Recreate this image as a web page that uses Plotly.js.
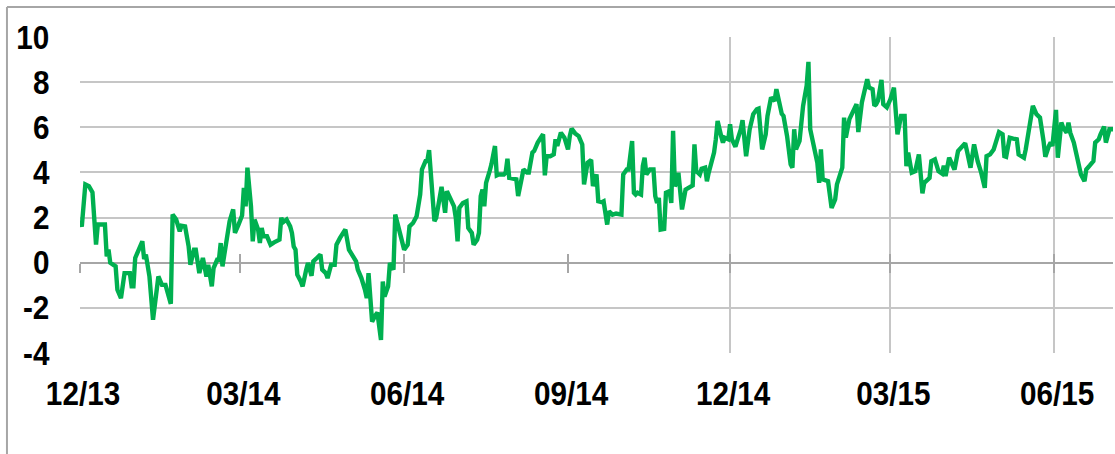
<!DOCTYPE html>
<html>
<head>
<meta charset="utf-8">
<script src="https://cdn.plot.ly/plotly-3.0.1.min.js"></script>
<style>
  html, body { margin: 0; padding: 0; background: #ffffff; }
  #chart { width: 1115px; height: 454px; }
</style>
</head>
<body>
<div id="chart"></div>
<script>
// Series: dates and values
const dates = [
  "2013-12-01","2013-12-02","2013-12-04","2013-12-06","2013-12-08","2013-12-09","2013-12-10","2013-12-11",
  "2013-12-15","2013-12-16","2013-12-17","2013-12-18","2013-12-21","2013-12-22","2013-12-24","2013-12-26",
  "2013-12-29","2013-12-30","2013-12-31","2014-01-01","2014-01-05","2014-01-06","2014-01-07","2014-01-09",
  "2014-01-11","2014-01-14","2014-01-16","2014-01-18","2014-01-21","2014-01-22","2014-01-24","2014-01-26",
  "2014-01-27","2014-01-29","2014-01-31","2014-02-01","2014-02-03","2014-02-04","2014-02-06","2014-02-08",
  "2014-02-10","2014-02-11","2014-02-13","2014-02-14","2014-02-16","2014-02-17","2014-02-18","2014-02-19",
  "2014-02-21","2014-02-23","2014-02-25","2014-02-26","2014-02-28","2014-03-02","2014-03-03","2014-03-04",
  "2014-03-05","2014-03-07","2014-03-08","2014-03-09","2014-03-11","2014-03-12","2014-03-13","2014-03-14",
  "2014-03-16","2014-03-18","2014-03-20","2014-03-23","2014-03-24","2014-03-25","2014-03-27","2014-03-29",
  "2014-03-30","2014-03-31","2014-04-01","2014-04-02","2014-04-04","2014-04-05","2014-04-07","2014-04-08",
  "2014-04-10","2014-04-11","2014-04-13","2014-04-15","2014-04-16","2014-04-18","2014-04-19","2014-04-21",
  "2014-04-23","2014-04-24","2014-04-26","2014-04-29","2014-05-01","2014-05-03","2014-05-05","2014-05-06",
  "2014-05-08","2014-05-10","2014-05-11","2014-05-12","2014-05-13","2014-05-14","2014-05-16","2014-05-17",
  "2014-05-19","2014-05-20","2014-05-21","2014-05-23","2014-05-24","2014-05-26","2014-05-27","2014-05-30",
  "2014-06-01","2014-06-03","2014-06-04","2014-06-06","2014-06-08","2014-06-10","2014-06-11","2014-06-13",
  "2014-06-14","2014-06-15","2014-06-17","2014-06-18","2014-06-19","2014-06-22","2014-06-23","2014-06-24",
  "2014-06-25","2014-06-27","2014-06-29","2014-06-30","2014-07-01","2014-07-02","2014-07-04","2014-07-06",
  "2014-07-07","2014-07-09","2014-07-10","2014-07-12","2014-07-13","2014-07-14","2014-07-15","2014-07-16",
  "2014-07-17","2014-07-19","2014-07-20","2014-07-22","2014-07-23","2014-07-24","2014-07-27","2014-07-28",
  "2014-07-29","2014-07-30","2014-08-01","2014-08-03","2014-08-04","2014-08-06","2014-08-07","2014-08-09",
  "2014-08-10","2014-08-12","2014-08-13","2014-08-15","2014-08-18","2014-08-19","2014-08-20","2014-08-22",
  "2014-08-24","2014-08-25","2014-08-26","2014-08-27","2014-08-28","2014-08-30","2014-09-01","2014-09-02",
  "2014-09-03","2014-09-05","2014-09-07","2014-09-09","2014-09-10","2014-09-12","2014-09-14","2014-09-15",
  "2014-09-17","2014-09-18","2014-09-20","2014-09-21","2014-09-23","2014-09-24","2014-09-26","2014-09-28",
  "2014-10-01","2014-10-02","2014-10-04","2014-10-05","2014-10-07","2014-10-08","2014-10-09","2014-10-10",
  "2014-10-12","2014-10-13","2014-10-14","2014-10-15","2014-10-17","2014-10-19","2014-10-20","2014-10-21",
  "2014-10-22","2014-10-23","2014-10-25","2014-10-26","2014-10-28","2014-10-29","2014-10-30","2014-10-31",
  "2014-11-01","2014-11-02","2014-11-03","2014-11-04","2014-11-06","2014-11-08","2014-11-10","2014-11-11",
  "2014-11-12","2014-11-14","2014-11-15","2014-11-17","2014-11-18","2014-11-19","2014-11-22","2014-11-23",
  "2014-11-24","2014-11-26","2014-11-27","2014-11-28","2014-11-30","2014-12-01","2014-12-02","2014-12-04",
  "2014-12-05","2014-12-07","2014-12-08","2014-12-10","2014-12-12","2014-12-14","2014-12-16","2014-12-17",
  "2014-12-19","2014-12-21","2014-12-22","2014-12-24","2014-12-26","2014-12-27","2014-12-30","2014-12-31",
  "2015-01-02","2015-01-04","2015-01-05","2015-01-06","2015-01-07","2015-01-09","2015-01-11","2015-01-13",
  "2015-01-14","2015-01-15","2015-01-17","2015-01-19","2015-01-20","2015-01-21","2015-01-22","2015-01-25",
  "2015-01-27","2015-01-29","2015-01-30","2015-02-02","2015-02-03","2015-02-04","2015-02-06","2015-02-08",
  "2015-02-10","2015-02-11","2015-02-13","2015-02-16","2015-02-17","2015-02-19","2015-02-20","2015-02-21",
  "2015-02-22","2015-02-24","2015-02-25","2015-02-27","2015-03-01","2015-03-03","2015-03-04","2015-03-05",
  "2015-03-07","2015-03-09","2015-03-10","2015-03-11","2015-03-13","2015-03-15","2015-03-17","2015-03-19",
  "2015-03-20","2015-03-23","2015-03-24","2015-03-26","2015-03-28","2015-03-30","2015-03-31","2015-04-01",
  "2015-04-03","2015-04-04","2015-04-06","2015-04-08","2015-04-09","2015-04-12","2015-04-13","2015-04-15",
  "2015-04-17","2015-04-18","2015-04-19","2015-04-21","2015-04-22","2015-04-23","2015-04-24","2015-04-26",
  "2015-04-28","2015-04-29","2015-05-01","2015-05-03","2015-05-04","2015-05-05","2015-05-07","2015-05-09",
  "2015-05-11","2015-05-12","2015-05-15","2015-05-16","2015-05-18","2015-05-20","2015-05-22","2015-05-24",
  "2015-05-26","2015-05-27","2015-05-29","2015-05-30","2015-05-31","2015-06-02","2015-06-03","2015-06-05",
  "2015-06-06","2015-06-08","2015-06-09","2015-06-10","2015-06-12","2015-06-14","2015-06-16","2015-06-18",
  "2015-06-19","2015-06-21","2015-06-23","2015-06-24","2015-06-26","2015-06-27","2015-06-29","2015-06-30",
  "2015-07-02","2015-07-04"
];
const values = [
  1.8, 1.6, 3.47, 3.39, 3.12, 1.61, 0.8, 1.69,
  1.69, 0.28, 0.58, 0.0, -0.16, -1.2, -1.57, -0.46,
  -0.46, -1.05, -1.05, 0.21, 0.95, 0.16, 0.36, -0.61,
  -2.53, -0.61, -0.98, -0.98, -1.82, 2.13, 1.91, 1.39,
  1.64, 1.61, 0.72, -0.09, 0.58, 0.58, -0.46, 0.21,
  -0.61, -0.09, -1.05, -0.24, 0.13, 0.13, 0.87, -0.16,
  0.72, 1.84, 2.36, 1.32, 1.69, 2.09, 3.32, 2.5,
  4.21, 2.5, 0.95, 1.91, 1.47, 0.87, 1.54, 1.17,
  1.17, 0.8, 0.9, 1.02, 1.99, 1.79, 1.91, 1.61,
  1.32, 0.72, 0.58, -0.53, -0.83, -1.05, -0.31, -0.01,
  -0.58, 0.06, 0.21, 0.36, -0.31, -0.46, -0.68, -0.09,
  -0.09, 0.8, 1.1, 1.47, 0.58, 0.28, 0.06, -0.31,
  -0.68, -1.2, -1.57, -0.46, -1.57, -2.61, -2.31, -2.21,
  -3.42, -0.83, -1.5, -1.05, -0.01, -0.31, 2.13, 1.17,
  0.58, 0.8, 1.61, 1.76, 2.06, 3.02, 4.13, 4.5,
  4.5, 4.99, 3.1, 1.84, 1.99, 3.36, 2.8, 2.21,
  3.17, 2.8, 2.5, 1.99, 0.95, 2.43, 2.65, 2.72,
  1.54, 1.32, 0.8, 1.02, 1.32, 2.95, 3.24, 2.5,
  3.54, 4.06, 4.36, 5.17, 3.87, 3.91, 3.91, 3.99,
  4.61, 3.76, 3.72, 3.69, 2.95, 3.61, 4.13, 3.99,
  3.99, 4.88, 4.95, 5.32, 5.69, 3.87, 4.72, 4.72,
  4.8, 5.47, 5.17, 5.47, 5.76, 5.54, 5.02, 5.61,
  5.94, 5.73, 5.61, 5.24, 3.47, 4.43, 4.55, 3.39,
  3.91, 2.72, 2.68, 2.72, 1.69, 2.28, 2.13, 2.18,
  2.13, 3.91, 4.13, 4.13, 5.39, 3.1, 3.02, 3.1,
  3.02, 4.28, 4.65, 3.91, 4.13, 4.13, 2.95, 2.65,
  2.87, 1.47, 1.5, 3.1, 3.17, 2.65, 5.84, 3.39,
  3.54, 3.99, 3.17, 2.36, 3.24, 3.32, 3.42, 5.24,
  4.06, 3.91, 4.16, 4.21, 3.61, 3.99, 4.88, 5.47,
  6.28, 5.61, 5.32, 5.54, 5.47, 6.13, 5.47, 5.14,
  5.39, 5.91, 6.31, 4.72, 5.91, 6.58, 6.8, 6.83,
  5.02, 5.69, 6.5, 7.32, 7.17, 7.69, 6.6, 6.5,
  5.61, 4.36, 4.21, 5.91, 5.02, 5.39, 6.95, 7.84,
  8.9, 5.91, 5.17, 4.43, 3.54, 5.02, 3.69, 3.61,
  2.43, 2.8, 3.47, 4.21, 6.43, 5.54, 6.36, 6.72,
  7.02, 5.79, 7.1, 8.13, 7.76, 7.69, 6.95, 7.02,
  7.17, 8.1, 7.02, 6.88, 7.24, 7.76, 6.95, 5.69,
  6.5, 6.5, 4.28, 4.88, 3.99, 4.06, 4.8, 3.07,
  3.54, 3.76, 4.5, 4.58, 4.06, 3.95, 4.3, 3.84,
  4.65, 4.43, 4.13, 4.95, 5.02, 5.29, 4.95, 4.21,
  5.24, 4.8, 4.5, 3.99, 3.54, 3.32, 4.72, 4.8,
  5.02, 5.32, 5.79, 5.69, 4.72, 4.69, 5.54, 5.5,
  5.47, 4.8, 4.65, 5.02, 6.06, 6.95, 6.58, 6.43,
  5.39, 4.69, 5.17, 5.32, 5.17, 6.77, 4.65, 6.21,
  5.99, 5.76, 6.21, 5.76, 5.32, 4.65, 3.91, 3.61,
  4.13, 4.31, 4.5, 5.32, 5.47, 5.69, 6.03, 5.32,
  5.91, 5.91
];

// Axis ticks
const tickDates = ["2013-12-01","2014-03-01","2014-06-01","2014-09-01","2014-12-01","2015-03-01","2015-06-01"];
const tickLabels = ["12/13","03/14","06/14","09/14","12/14","03/15","06/15"];
const gridDates = ["2014-12-01","2015-03-01","2015-06-01"];
const yTicks = [-4, -2, 0, 2, 4, 6, 8, 10];
const yTickLabels = ["-4", "-2", "0", "2", "4", "6", "8", "10"];
const xRange = ["2013-12-01","2015-07-04"];
const yRange = [-4, 10];

const FONT = "'Liberation Sans', Arial, sans-serif";
const tickFont = { family: FONT, size: 33, color: "#000000", weight: "bold" };
const zeroFrac = (0 - yRange[0]) / (yRange[1] - yRange[0]);

const mainTrace = {
  type: "scatter",
  mode: "lines",
  x: dates,
  y: values,
  line: { color: "#00b050", width: 4.4 },
  hoverinfo: "skip"
};
// empty helper traces so the overlay axes (grid / zero-line ticks) are drawn
const helper = (ax) => ({ type: "scatter", mode: "lines", x: [], y: [], xaxis: ax, yaxis: "y", hoverinfo: "skip", showlegend: false });

const overlayBase = {
  type: "date",
  overlaying: "x",
  matches: "x",
  range: xRange,
  tickmode: "array",
  showticklabels: false,
  showgrid: false,
  zeroline: false,
  showline: false
};

const layout = {
  width: 1115,
  height: 454,
  margin: { l: 80, r: 2, t: 37, b: 101 },
  paper_bgcolor: "#ffffff",
  plot_bgcolor: "rgba(0,0,0,0)",
  showlegend: false,
  xaxis: {
    type: "date",
    range: xRange,
    tickmode: "array",
    tickvals: tickDates,
    ticktext: tickLabels,
    showgrid: false,
    zeroline: false,
    showline: false,
    ticks: "outside",
    ticklen: 11,
    tickcolor: "rgba(0,0,0,0)",
    tickfont: tickFont
  },
  xaxis2: Object.assign({}, overlayBase, {
    anchor: "y",
    tickvals: gridDates,
    showgrid: true,
    gridcolor: "#c6c6c6",
    gridwidth: 2,
    ticks: ""
  }),
  xaxis3: Object.assign({}, overlayBase, {
    anchor: "free",
    position: zeroFrac,
    tickvals: tickDates,
    ticks: "outside",
    ticklen: 9,
    tickwidth: 2,
    tickcolor: "#a6a6a6"
  }),
  xaxis4: Object.assign({}, overlayBase, {
    anchor: "free",
    position: zeroFrac,
    tickvals: tickDates,
    ticks: "inside",
    ticklen: 9,
    tickwidth: 2,
    tickcolor: "#a6a6a6"
  }),
  yaxis: {
    range: yRange,
    tickmode: "array",
    tickvals: yTicks,
    ticktext: yTickLabels,
    showgrid: true,
    gridcolor: "#c6c6c6",
    gridwidth: 2,
    zeroline: true,
    zerolinecolor: "#a6a6a6",
    zerolinewidth: 2,
    showline: false,
    ticks: "outside",
    ticklen: 23,
    tickcolor: "rgba(0,0,0,0)",
    tickfont: tickFont
  },
  shapes: [
    { type: "line", xref: "paper", yref: "paper", x0: -0.0707, x1: 1.2, y0: 1.0949, y1: 1.0949,
      line: { color: "#a6a6a6", width: 2 } },
    { type: "line", xref: "paper", yref: "paper", x0: -0.0707, x1: -0.0707, y0: 1.0949, y1: -0.5,
      line: { color: "#a6a6a6", width: 2 } }
  ]
};

Plotly.newPlot("chart", [helper("x2"), helper("x3"), helper("x4"), mainTrace], layout,
  { staticPlot: true, displayModeBar: false }).then(function (gd) {
  // slightly condensed lettering, as in the reference
  gd.querySelectorAll(".xtick text").forEach(function (t) {
    const b = t.getBBox();
    const cx = b.x + b.width / 2;
    const tr = t.getAttribute("transform") || "";
    t.setAttribute("transform", tr + " translate(" + (cx + 3) + ",0) scale(0.9,1) translate(" + (-cx) + ",0)");
  });
  gd.querySelectorAll(".ytick text").forEach(function (t) {
    const b = t.getBBox();
    const rx = b.x + b.width;
    const tr = t.getAttribute("transform") || "";
    t.setAttribute("transform", tr + " translate(" + rx + ",0) scale(0.9,1) translate(" + (-rx) + ",0)");
  });
});
</script>
</body>
</html>
